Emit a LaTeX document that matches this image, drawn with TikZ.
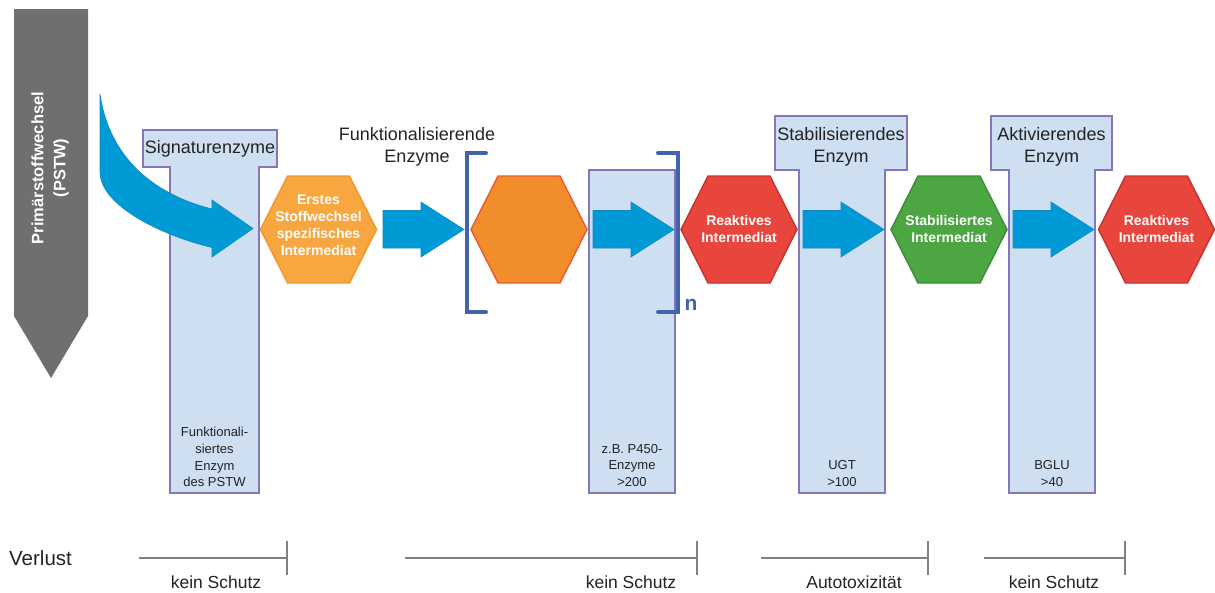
\documentclass[tikz,border=0pt]{standalone}
\usepackage{fontspec}
\setmainfont{Liberation Sans}
\definecolor{tfill}{RGB}{206,223,241}
\definecolor{tdraw}{RGB}{132,118,186}
\definecolor{arrblue}{RGB}{0,155,214}
\definecolor{arrbluedk}{RGB}{20,135,195}
\definecolor{pgray}{RGB}{110,111,111}
\definecolor{orlight}{RGB}{247,166,64}
\definecolor{orlightdk}{RGB}{240,150,50}
\definecolor{ormid}{RGB}{241,142,43}
\definecolor{ormiddk}{RGB}{232,90,50}
\definecolor{redh}{RGB}{232,69,60}
\definecolor{redhdk}{RGB}{200,50,45}
\definecolor{greenh}{RGB}{76,166,66}
\definecolor{greenhdk}{RGB}{60,140,55}
\definecolor{brack}{RGB}{66,100,170}
\definecolor{lossgray}{RGB}{128,128,128}
\definecolor{txt}{RGB}{35,35,35}
\newcommand{\hexpath}[3]{% cx, cy, style
  \filldraw[#3] (#1-58,#2) -- (#1-31,#2-53.5) -- (#1+31,#2-53.5) -- (#1+58,#2) -- (#1+31,#2+53.5) -- (#1-31,#2+53.5) -- cycle;}
\newcommand{\blockarrow}[3]{% x0, x1 (head start), tip
  \filldraw[blockarr] (#1,210.5) -- (#2,210.5) -- (#2,202) -- (#3,229.5) -- (#2,257) -- (#2,248) -- (#1,248) -- cycle;}
\begin{document}
\begin{tikzpicture}[x=1pt,y=-1pt,
  tshape/.style={fill=tfill,draw=tdraw,line width=1.3pt},
  blockarr/.style={fill=arrblue,draw=arrbluedk,line width=0.6pt},
  lbl/.style={font=\fontsize{18}{21.5}\selectfont,text=txt,align=center,inner sep=0pt},
  small/.style={font=\fontsize{13}{16.8}\selectfont,text=txt,align=center,inner sep=0pt},
  hext/.style={font=\bfseries\fontsize{14}{17}\selectfont,text=white,align=center,inner sep=0pt},
  hexorl/.style={fill=orlight,draw=orlightdk,line width=1.4pt},
  hexorm/.style={fill=ormid,draw=ormiddk,line width=1.4pt},
  hexred/.style={fill=redh,draw=redhdk,line width=1.4pt},
  hexgreen/.style={fill=greenh,draw=greenhdk,line width=1.4pt},
  bracketline/.style={draw=brack,line width=4pt,line cap=round,line join=miter},
  lossline/.style={draw=lossgray,line width=2pt},
  losstick/.style={draw=lossgray,line width=1.5pt},
  losslbl/.style={font=\fontsize{17.5}{20}\selectfont,text=txt,inner sep=0pt}
]
\useasboundingbox (0,0) rectangle (1215,592);

% Primary metabolism arrow
\fill[pgray] (14,9) -- (88,9) -- (88,316) -- (51,378) -- (14,316) -- cycle;
\node[rotate=90,font=\bfseries\fontsize{16.5}{22}\selectfont,text=white,align=center,inner sep=0pt] (pstw) at (50,168) {Primärstoffwechsel\\(PSTW)};

% T shapes
\draw[tshape] (143,130) -- (277,130) -- (277,167) -- (259,167) -- (259,493) -- (170,493) -- (170,167) -- (143,167) -- cycle;
\draw[tshape] (589,170) rectangle (675,493);
\draw[tshape] (775,116) -- (907,116) -- (907,170) -- (885,170) -- (885,493) -- (799,493) -- (799,170) -- (775,170) -- cycle;
\draw[tshape] (991,116) -- (1112,116) -- (1112,170) -- (1095,170) -- (1095,493) -- (1009,493) -- (1009,170) -- (991,170) -- cycle;

\node[lbl] (sig) at (210,148.5) {Signaturenzyme};
\node[lbl] (funk) at (417,147) {Funktionalisierende\\Enzyme};
\node[lbl] (stab) at (841,147) {Stabilisierendes\\Enzym};
\node[lbl] (akt) at (1051.5,147) {Aktivierendes\\Enzym};

\node[small] (e1) at (214.5,457) {Funktionali-\\siertes\\Enzym\\des PSTW};
\node[small] (e2) at (632,465.5) {z.B. P450-\\Enzyme\\>200};
\node[small] (e3) at (842,473.5) {UGT\\>100};
\node[small] (e4) at (1052,473.5) {BGLU\\>40};

% curved arrow
\filldraw[blockarr] (100,94) .. controls (108,150) and (145,192) .. (212,209) -- (212,200) -- (253,228.5) -- (212,257) -- (212,247.5) .. controls (160,235) and (100,205) .. (100,172) -- cycle;

% straight arrows
\blockarrow{383}{421}{464}
\blockarrow{593}{631}{674}
\blockarrow{803}{841}{884}
\blockarrow{1013}{1051}{1094}

% hexagons
\hexpath{318.5}{229.5}{hexorl}
\hexpath{529}{229.5}{hexorm}
\hexpath{739}{229.5}{hexred}
\hexpath{949}{229.5}{hexgreen}
\hexpath{1156.5}{229.5}{hexred}

\node[hext] (i1) at (318.5,225) {Erstes\\Stoffwechsel\\spezifisches\\Intermediat};
\node[hext] (i3) at (739,229) {Reaktives\\Intermediat};
\node[hext] (i4) at (949,229) {Stabilisiertes\\Intermediat};
\node[hext] (i5) at (1156.5,229) {Reaktives\\Intermediat};

% brackets
\draw[bracketline] (486,153) -- (467,153) -- (467,312) -- (486,312);
\draw[bracketline] (658,153) -- (678,153) -- (678,312) -- (658,312);
\node[font=\bfseries\fontsize{21}{24}\selectfont,text=brack,inner sep=0pt] (n) at (691,305) {n};

% losses
\node[font=\fontsize{20.5}{24}\selectfont,text=txt,anchor=west,inner sep=0pt] (verlust) at (9,558) {Verlust};
\coordinate (l1a) at (139,558); \coordinate (l1b) at (287,558);
\coordinate (l2a) at (405,558); \coordinate (l2b) at (697,558);
\coordinate (l3a) at (761,558); \coordinate (l3b) at (928,558);
\coordinate (l4a) at (984,558); \coordinate (l4b) at (1125,558);
\draw[lossline] (l1a) -- (l1b);
\draw[lossline] (l2a) -- (l2b);
\draw[lossline] (l3a) -- (l3b);
\draw[lossline] (l4a) -- (l4b);
\foreach \c in {l1b,l2b,l3b,l4b}{\draw[losstick] ([yshift=-17pt]\c) -- ([yshift=17pt]\c);}
\node[losslbl] (s1) at (216,582) {kein Schutz};
\node[losslbl] (s2) at (631,582) {kein Schutz};
\node[losslbl] (s3) at (854,582) {Autotoxizität};
\node[losslbl] (s4) at (1054,582) {kein Schutz};
\end{tikzpicture}
\end{document}
